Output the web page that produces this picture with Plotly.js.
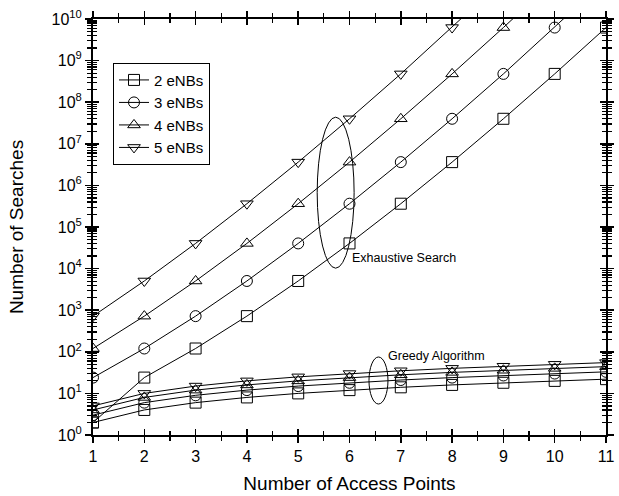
<!DOCTYPE html>
<html><head><meta charset="utf-8">
<script src="https://cdn.plot.ly/plotly-3.0.1.min.js"></script>
<style>html,body{margin:0;padding:0;background:#fff}#c{width:619px;height:496px}</style>
</head><body><div id="c"></div>
<script>
var accessPoints = [1,2,3,4,5,6,7,8,9,10,11];
var seriesNames = ['2 eNBs','3 eNBs','4 eNBs','5 eNBs'];
var exh2 = [2, 24, 120, 720, 5040, 40320, 362880, 3628800, 39916800, 479001600, 6227020800];
var exh3 = [24, 120, 720, 5040, 40320, 362880, 3628800, 39916800, 479001600, 6227020800, 87178291200];
var exh4 = [120, 720, 5040, 40320, 362880, 3628800, 39916800, 479001600, 6227020800, 87178291200];
var exh5 = [720, 5040, 40320, 362880, 3628800, 39916800, 479001600, 6227020800, 87178291200];
var gr2 = [2, 4, 6, 8, 10, 12, 14, 16, 18, 20, 22];
var gr3 = [3, 6, 9, 12, 15, 18, 21, 24, 27, 30, 33];
var gr4 = [4, 8, 12, 16, 20, 24, 28, 32, 36, 40, 44];
var gr5 = [5, 10, 15, 20, 25, 30, 35, 40, 45, 50, 55];
var yTickVals = [1,10,100,1e3,1e4,1e5,1e6,1e7,1e8,1e9,1e10];
var yTickText = ['10<sup>0</sup>','10<sup>1</sup>','10<sup>2</sup>','10<sup>3</sup>','10<sup>4</sup>','10<sup>5</sup>','10<sup>6</sup>','10<sup>7</sup>','10<sup>8</sup>','10<sup>9</sup>','10<sup>10</sup>'];

var symbols = ['square-open','circle-open','triangle-up-open','triangle-down-open'];
var exh = [exh2, exh3, exh4, exh5];
var gr = [gr2, gr3, gr4, gr5];
var traces = [];
for (var i = 0; i < 4; i++) {
  traces.push({x: accessPoints.slice(0, exh[i].length), y: exh[i], type:'scatter', mode:'lines+markers',
    name: seriesNames[i], legendgroup: 'g'+i,
    line:{color:'#000', width:1}, marker:{symbol:symbols[i], size:11, color:'#000', line:{width:1, color:'#000'}}});
}
for (var i = 0; i < 4; i++) {
  traces.push({x: accessPoints, y: gr[i], type:'scatter', mode:'lines+markers',
    name: seriesNames[i], legendgroup: 'g'+i, showlegend:false,
    line:{color:'#000', width:1}, marker:{symbol:symbols[i], size:11, color:'#000', line:{width:1, color:'#000'}}});
}
traces.push({x:[], y:[], xaxis:'x2', yaxis:'y2', type:'scatter', showlegend:false, hoverinfo:'skip'});

var font = {family:'Liberation Sans, Arial, sans-serif', color:'#000'};
var layout = {
  width:619, height:496,
  margin:{l:93, r:13, t:19, b:61},
  paper_bgcolor:'#fff', plot_bgcolor:'#fff',
  font: font,
  showlegend:true,
  legend:{x:0.039, y:0.895, xanchor:'left', yanchor:'top', bgcolor:'#fff', bordercolor:'#000', borderwidth:1,
    font:{family:font.family, size:15, color:'#000'}, tracegroupgap:0, itemwidth:30},
  xaxis:{range:[1,11], tickvals:accessPoints, ticks:'outside', ticklen:6, tickwidth:1.5, tickcolor:'#000',
    showline:true, linewidth:2, linecolor:'#000', mirror:'allticks', showgrid:false, zeroline:false,
    minor:{dtick:0.5, tick0:1, ticks:'outside', ticklen:4, tickwidth:1.2, tickcolor:'#000', showgrid:false},
    tickfont:{family:font.family, size:16, color:'#000'},
    title:{text:'Number of Access Points', font:{family:font.family, size:19, color:'#000'}, standoff:12}},
  yaxis:{type:'log', range:[0,10], tickvals:yTickVals, ticktext:yTickText, ticks:'outside', ticklen:6, tickwidth:1.5, tickcolor:'#000',
    showline:true, linewidth:2, linecolor:'#000', mirror:'allticks', showgrid:false, zeroline:false,
    minor:{dtick:'D1', ticks:'outside', ticklen:4, tickwidth:1.2, tickcolor:'#000', showgrid:false},
    tickfont:{family:font.family, size:16, color:'#000'},
    title:{text:'Number of Searches', font:{family:font.family, size:19, color:'#000'}, standoff:23}},
  xaxis2:{overlaying:'x', range:[1,11], tickvals:accessPoints, ticks:'inside', ticklen:6, tickwidth:1.5, tickcolor:'#000',
    showticklabels:false, showline:false, mirror:'allticks', showgrid:false, zeroline:false,
    minor:{dtick:0.5, tick0:1, ticks:'inside', ticklen:4, tickwidth:1.2, tickcolor:'#000', showgrid:false}},
  yaxis2:{overlaying:'y', type:'log', range:[0,10], tickvals:yTickVals, ticks:'inside', ticklen:6, tickwidth:1.5, tickcolor:'#000',
    showticklabels:false, showline:false, mirror:'allticks', showgrid:false, zeroline:false,
    minor:{dtick:'D1', ticks:'inside', ticklen:4, tickwidth:1.2, tickcolor:'#000', showgrid:false}},
  shapes:[
    {type:'circle', xref:'x', yref:'paper', x0:5.37, x1:6.09, y0:0.401, y1:0.764, line:{color:'#000', width:1}},
    {type:'circle', xref:'x', yref:'paper', x0:6.38, x1:6.75, y0:0.0745, y1:0.1875, line:{color:'#000', width:1}}
  ],
  annotations:[
    {text:'Exhaustive Search', xref:'x', yref:'paper', x:6.0, y:0.425, xanchor:'left', yanchor:'middle', showarrow:false,
     font:{family:font.family, size:12.5, color:'#000'}},
    {text:'Greedy Algorithm', xref:'x', yref:'paper', x:6.72, y:0.19, xanchor:'left', yanchor:'middle', showarrow:false,
     font:{family:font.family, size:12.5, color:'#000'}}
  ]
};
Plotly.newPlot('c', traces, layout, {displayModeBar:false, staticPlot:true});
</script></body></html>
